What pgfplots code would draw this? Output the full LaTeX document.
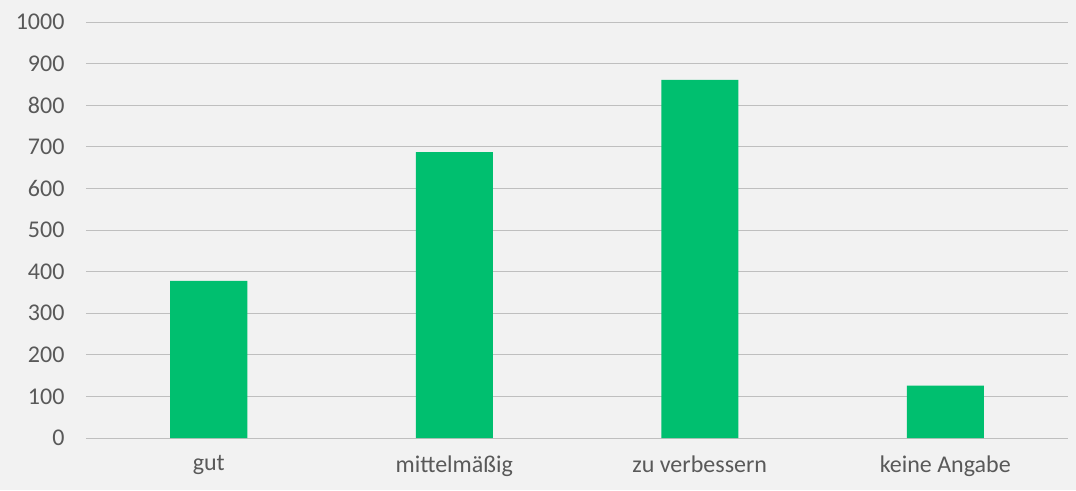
\documentclass[border=0pt]{standalone}
\usepackage{pgfplots}
\pgfplotsset{compat=1.18}
\usepackage{fontspec}
\setmainfont{Carlito}
\definecolor{bg}{HTML}{F2F2F2}
\definecolor{bar}{HTML}{00BF6F}
\definecolor{grid}{HTML}{BFBFBF}
\definecolor{txt}{HTML}{595959}
\begin{document}
\begin{tikzpicture}
\fill[bg] (-86pt,-52pt) rectangle (990pt,438pt);
\path[use as bounding box] (-86pt,-52pt) rectangle (990pt,438pt);
\begin{axis}[
  at={(0pt,0pt)}, anchor=south west,
  scale only axis,
  width=982pt, height=416pt,
  xmin=-0.5, xmax=3.5,
  ymin=0, ymax=1000,
  ytick={0,100,...,1000},
  xtick={0,1,2,3},
  xticklabels={gut,mittelmäßig,zu verbessern,keine Angabe},
  axis line style={draw=none},
  major tick length=0pt,
  ymajorgrids,
  grid style={draw=grid, line width=0.9pt},
  tick label style={font=\fontsize{24}{28}\selectfont, text=txt},
  /pgf/number format/assume math mode=true,
  /pgf/number format/1000 sep={},
  yticklabel style={xshift=-18pt},
  xticklabel style={yshift=-14pt},
  clip=false,
]
\addplot[ybar, bar width=77pt, fill=bar, draw=none] coordinates {
  (0,378) (1,687) (2,861) (3,126)
};
\end{axis}
\end{tikzpicture}
\end{document}
